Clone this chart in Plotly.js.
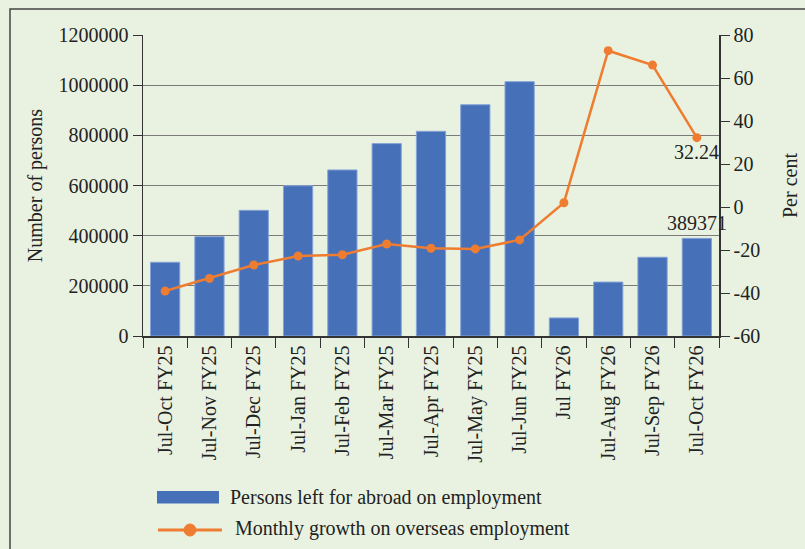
<!DOCTYPE html>
<html>
<head>
<meta charset="utf-8">
<script src="https://cdn.plot.ly/plotly-3.0.1.min.js"></script>
<style>html,body{margin:0;padding:0;background:#e9f2e1;}</style>
</head>
<body>
<div id="chart" style="width:805px;height:549px;"></div>
<script>
var categories = ["Jul-Oct FY25","Jul-Nov FY25","Jul-Dec FY25","Jul-Jan FY25","Jul-Feb FY25","Jul-Mar FY25","Jul-Apr FY25","Jul-May FY25","Jul-Jun FY25","Jul FY26","Jul-Aug FY26","Jul-Sep FY26","Jul-Oct FY26"];
var personsLeft = [294000, 396000, 501000, 599000, 662000, 767000, 816000, 922000, 1014000, 72000, 215000, 314000, 389371];
var monthlyGrowth = [-39.1, -33.2, -27.0, -22.8, -22.2, -17.2, -19.2, -19.5, -15.3, 2.0, 72.7, 66.0, 32.24];
var leftTicks = [0, 200000, 400000, 600000, 800000, 1000000, 1200000];
var leftTickText = ["0","200000","400000","600000","800000","1000000","1200000"];
var rightTicks = [-60, -40, -20, 0, 20, 40, 60, 80];
var rightTickText = ["-60","-40","-20","0","20","40","60","80"];
var barName = "Persons left for abroad on employment";
var lineName = "Monthly growth on overseas employment";

var FONT = "'Liberation Serif', 'Times New Roman', serif";
var TXT = "#222222";
var BLUE = "#4670b8";
var ORANGE = "#ee7d31";
var last = categories.length - 1;

var traces = [
  {type: "bar", x: categories, y: personsLeft, name: barName, yaxis: "y",
   marker: {color: BLUE, line: {color: "#86a3d8", width: 1}}, hoverinfo: "x+y"},
  {type: "scatter", mode: "lines+markers", x: categories, y: monthlyGrowth, name: lineName, yaxis: "y2",
   line: {color: ORANGE, width: 2.5}, marker: {color: ORANGE, size: 9}}
];

var layout = {
  width: 805, height: 549,
  margin: {l: 143, r: 86, t: 35, b: 213},
  paper_bgcolor: "#e9f2e1", plot_bgcolor: "#e9f2e1",
  font: {family: FONT, size: 20, color: TXT},
  showlegend: false,
  bargap: 0.34,
  xaxis: {type: "category", range: [-0.5, categories.length - 0.5], autorange: false,
          tickangle: -90, ticks: "outside", tickson: "boundaries", ticklen: 10,
          tickcolor: "#333", showline: true, linecolor: "#333", linewidth: 1.5, showgrid: false,
          tickfont: {family: FONT, size: 20, color: TXT}, automargin: false},
  yaxis: {range: [0, 1200000], tickvals: leftTicks, ticktext: leftTickText, ticks: "outside", ticklen: 9,
          tickcolor: "#333", showline: true, linecolor: "#333", linewidth: 1.5, showgrid: true,
          gridcolor: "#7a7a7a", gridwidth: 1, zeroline: false, automargin: false,
          tickfont: {family: FONT, size: 20, color: TXT},
          title: {text: "Number of persons", font: {family: FONT, size: 20, color: TXT}, standoff: 10}},
  yaxis2: {range: [-60, 80], overlaying: "y", side: "right", tickvals: rightTicks, ticktext: rightTickText,
           ticks: "outside", ticklen: 9, tickcolor: "#333", showline: true, linecolor: "#333", linewidth: 1.5,
           showgrid: false, zeroline: false, automargin: false,
           tickfont: {family: FONT, size: 20, color: TXT},
           title: {text: "Per cent", font: {family: FONT, size: 20, color: TXT}, standoff: 24}},
  annotations: [
    {x: categories[last], y: personsLeft[last], xref: "x", yref: "y", text: String(personsLeft[last]),
     showarrow: false, yanchor: "bottom", xanchor: "center", yshift: 2, font: {family: FONT, size: 20, color: TXT}},
    {x: categories[last], y: monthlyGrowth[last], xref: "x", yref: "y2", text: String(monthlyGrowth[last]),
     showarrow: false, yanchor: "top", xanchor: "center", yshift: -1, font: {family: FONT, size: 20, color: TXT}},
    {x: 0.1476, y: -0.535, xref: "paper", yref: "paper", text: barName, showarrow: false,
     xanchor: "left", yanchor: "middle", font: {family: FONT, size: 20, color: TXT}},
    {x: 0.1563, y: -0.641, xref: "paper", yref: "paper", text: lineName, showarrow: false,
     xanchor: "left", yanchor: "middle", font: {family: FONT, size: 20, color: TXT}}
  ],
  shapes: [
    {type: "rect", xref: "paper", yref: "paper", x0: -0.2309, x1: 1.158, y0: -0.744, y1: 1.0864,
     line: {color: "#444", width: 1.5}, fillcolor: "rgba(0,0,0,0)", layer: "below"},
    {type: "rect", xref: "paper", yref: "paper", x0: 0.0243, x1: 0.1319, y0: -0.5565, y1: -0.515,
     line: {width: 0}, fillcolor: BLUE},
    {type: "line", xref: "paper", yref: "paper", x0: 0.026, x1: 0.137, y0: -0.6445, y1: -0.6445,
     line: {color: ORANGE, width: 3}},
    {type: "circle", xref: "paper", yref: "paper", x0: 0.0712, x1: 0.0920, y0: -0.6645, y1: -0.6246,
     line: {color: ORANGE, width: 1}, fillcolor: ORANGE}
  ]
};

Plotly.newPlot("chart", traces, layout, {displayModeBar: false, staticPlot: true});
</script>
</body>
</html>
